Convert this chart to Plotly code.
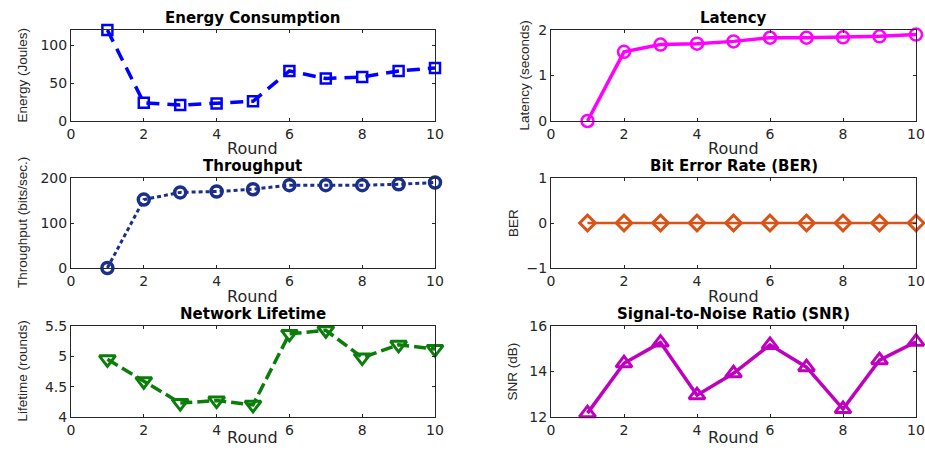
import plotly.graph_objects as go

rounds = [1, 2, 3, 4, 5, 6, 7, 8, 9, 10]
energy = [120, 24, 21, 23, 26, 66, 56, 58, 66, 70]
latency = [0, 1.52, 1.68, 1.70, 1.75, 1.83, 1.83, 1.84, 1.86, 1.90]
throughput = [0, 152, 168, 170, 175, 184, 184, 184, 186, 190]
ber = [0, 0, 0, 0, 0, 0, 0, 0, 0, 0]
lifetime = [4.95, 4.59, 4.23, 4.27, 4.20, 5.37, 5.43, 4.98, 5.19, 5.12]
snr = [12.17, 14.36, 15.27, 12.96, 13.92, 15.17, 14.19, 12.35, 14.5, 15.31]

titles = ["Energy Consumption", "Latency", "Throughput", "Bit Error Rate (BER)",
          "Network Lifetime", "Signal-to-Noise Ratio (SNR)"]
ylabels = ["Energy (Joules)", "Latency (seconds)", "Throughput (bits/sec.)", "BER",
           "Lifetime (rounds)", "SNR (dB)"]
xlabel = "Round"
xticks = [0, 2, 4, 6, 8, 10]
yranges = [[0, 120], [0, 2], [0, 200], [-1, 1], [4, 5.5], [12, 16]]
yticks = [[0, 50, 100], [0, 1, 2], [0, 100, 200], [-1, 0, 1], [4, 4.5, 5, 5.5], [12, 14, 16]]

W, H = 925, 452
# pixel boxes (left, right, top, bottom)
cols = [(71, 435), (551, 916)]
rows = [(30, 121), (178, 268), (326, 417)]
ylab_x = [22, 524, 22, 513, 22, 512]
xlab_y = [148, 296, 437]

series = [
    dict(y=energy, color="#0000FF", dash="13px,8px", width=3.5, symbol="square-open", size=10, mlw=2.5),
    dict(y=latency, color="#FF00FF", dash="solid", width=3.5, symbol="circle-open", size=12, mlw=2.5),
    dict(y=throughput, color="#1A2E8C", dash="4px,3px", width=3, symbol="circle-open", size=11, mlw=3.5),
    dict(y=ber, color="#D95319", dash="solid", width=2.5, symbol="diamond-open", size=12, mlw=3),
    dict(y=lifetime, color="#0B7D0B", dash="12px,5px", width=3.5, symbol="triangle-down-open", size=14, mlw=3),
    dict(y=snr, color="#BF00BF", dash="solid", width=3.5, symbol="triangle-up-open", size=14, mlw=3),
]

fig = go.Figure()
annotations = []
tick_fam = "DejaVu Sans, sans-serif"
lab_fam = "Liberation Sans, Arial, sans-serif"
axcol = "#262626"

for i, s in enumerate(series):
    r, c = divmod(i, 2)
    l, rt = cols[c]
    t, b = rows[r]
    xa = "x" if i == 0 else f"x{i+1}"
    ya = "y" if i == 0 else f"y{i+1}"
    fig.add_trace(go.Scatter(
        x=rounds, y=s["y"], xaxis=xa, yaxis=ya, mode="lines+markers",
        line=dict(color=s["color"], dash=s["dash"], width=s["width"]),
        marker=dict(symbol=s["symbol"], size=s["size"], color=s["color"],
                    line=dict(color=s["color"], width=s["mlw"])),
        cliponaxis=False, showlegend=False))
    xkey = "xaxis" if i == 0 else f"xaxis{i+1}"
    ykey = "yaxis" if i == 0 else f"yaxis{i+1}"
    fig.layout[xkey] = dict(
        domain=[l / W, rt / W], anchor=ya, range=[0, 10], tickvals=xticks,
        ticks="inside", ticklen=3, tickcolor=axcol, showline=True, linecolor=axcol,
        linewidth=1, mirror="ticks", showgrid=False, zeroline=False, automargin=False,
        tickfont=dict(size=14, color=axcol, family=tick_fam))
    fig.layout[ykey] = dict(
        domain=[1 - b / H, 1 - t / H], anchor=xa, range=yranges[i], tickvals=yticks[i],
        ticks="inside", ticklen=3, tickcolor=axcol, showline=True, linecolor=axcol,
        linewidth=1, mirror="ticks", showgrid=False, zeroline=False, automargin=False,
        tickfont=dict(size=14, color=axcol, family=tick_fam))
    annotations.append(dict(
        text=f"<b>{titles[i]}</b>", x=(l + rt) / 2 / W, y=1 - (t - 1) / H,
        xref="paper", yref="paper", xanchor="center", yanchor="bottom",
        showarrow=False, font=dict(size=15, color="#000000", family=tick_fam)))
    annotations.append(dict(
        text=ylabels[i], x=ylab_x[i] / W, y=1 - (t + b) / 2 / H,
        xref="paper", yref="paper", xanchor="center", yanchor="middle",
        textangle=-90, showarrow=False,
        font=dict(size=13.5, color=axcol, family=lab_fam)))
    annotations.append(dict(
        text=xlabel, x=(l + rt) / 2 / W, y=1 - xlab_y[r] / H,
        xref="paper", yref="paper", xanchor="center", yanchor="middle",
        showarrow=False, font=dict(size=16, color=axcol, family=tick_fam)))

fig.update_layout(
    width=W, height=H, margin=dict(l=0, r=0, t=0, b=0, autoexpand=False),
    paper_bgcolor="white", plot_bgcolor="white",
    annotations=annotations)

fig.write_html("out.html")
